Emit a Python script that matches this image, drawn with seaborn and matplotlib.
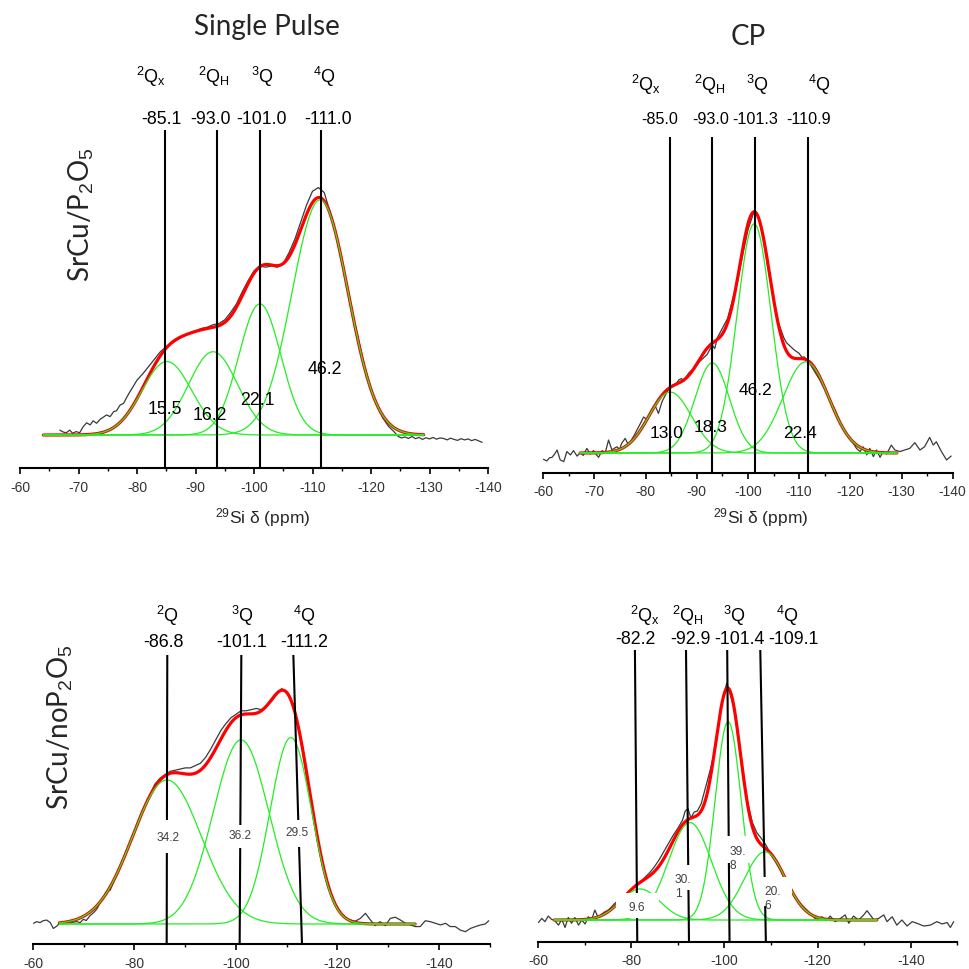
import numpy as np
import pandas as pd
import matplotlib
matplotlib.use("Agg")
import matplotlib.pyplot as plt
import seaborn as sns
from matplotlib.transforms import offset_copy
from matplotlib.patches import Rectangle
from matplotlib.ticker import MultipleLocator

# ---------------------------------------------------------------- data
# Panel 1 : SrCu/P2O5, single pulse
p1_spectrum = [(-66.8, 0.020), (-67.4, 0.012), (-67.9, 0.009), (-68.5, 0.020), (-69.0, 0.007), (-69.6, 0.014),
               (-70.2, 0.009), (-70.8, 0.034), (-71.4, 0.050), (-72.0, 0.041), (-72.5, 0.058), (-73.1, 0.048),
               (-73.7, 0.064), (-74.2, 0.072), (-74.8, 0.082), (-75.4, 0.075), (-76.0, 0.095), (-76.5, 0.099),
               (-77.1, 0.122), (-77.7, 0.129), (-78.3, 0.156), (-78.8, 0.177), (-79.4, 0.200), (-80.0, 0.224),
               (-81, 0.25), (-82, 0.28), (-83, 0.31), (-84, 0.34), (-85, 0.36), (-86, 0.375), (-87, 0.39),
               (-88, 0.405), (-89, 0.415), (-90, 0.425), (-91, 0.435), (-92, 0.44), (-93, 0.45), (-94, 0.455),
               (-95, 0.47), (-96, 0.50), (-97, 0.535), (-98, 0.585), (-99, 0.63), (-100, 0.67), (-101, 0.69),
               (-102, 0.685), (-103, 0.69), (-104, 0.685), (-105, 0.70), (-106, 0.745), (-107, 0.80), (-108, 0.87),
               (-109, 0.94), (-110, 0.995), (-111, 1.01), (-112, 0.99), (-113, 0.91), (-114, 0.82), (-115, 0.71),
               (-116, 0.60), (-117, 0.48), (-118, 0.375), (-119, 0.27), (-120, 0.19), (-121, 0.12), (-122, 0.07),
               (-123, 0.035), (-124, 0.012), (-124.6, -0.005), (-125.2, -0.012), (-125.8, -0.008), (-126.4, -0.014),
               (-127.0, -0.006), (-127.6, -0.015), (-128.2, -0.010), (-128.8, -0.018), (-129.4, -0.011),
               (-130.0, -0.016), (-130.6, -0.010), (-131.2, -0.017), (-131.8, -0.012), (-132.4, -0.014),
               (-133.0, -0.020), (-133.6, -0.013), (-134.2, -0.018), (-134.8, -0.022), (-135.4, -0.015),
               (-136.0, -0.020), (-136.6, -0.016), (-137.2, -0.023), (-137.8, -0.018), (-138.4, -0.024),
               (-139.0, -0.030)]
p1_fit_range = [-64.0, -129.0]
p1_centers = [-85.1, -93.0, -101.0, -111.3]
p1_heights = [0.30, 0.34, 0.535, 0.96]
p1_widths = [4.25, 4.2, 3.6, 4.8]
p1_line_top = [-84.73, -93.68, -101.08, -111.4]
p1_line_bottom = [-84.73, -93.68, -101.08, -111.4]
p1_sites = ["$^{2}$Q$_{\\mathrm{x}}$", "$^{2}$Q$_{\\mathrm{H}}$", "$^{3}$Q", "$^{4}$Q"]
p1_shifts = ["-85.1", "-93.0", "-101.0", "-111.0"]
p1_areas = ["15.5", "16.2", "22.1", "46.2"]
p1_area_pos = [(-84.7, 0.104), (-92.4, 0.080), (-100.5, 0.142), (-112.1, 0.268)]

# Panel 2 : SrCu/P2O5, CP
p2_spectrum = [(-60.0, -0.026), (-60.7, -0.033), (-61.2, -0.020), (-61.7, -0.018), (-62.2, -0.005), (-62.7, 0.0125),
               (-63.3, -0.029), (-64.0, -0.036), (-64.6, 0.006), (-65.3, -0.008), (-65.9, 0.010), (-66.6, -0.013),
               (-67.2, 0.001), (-67.8, -0.010), (-68.5, 0.019), (-69.2, -0.004), (-69.8, 0.010), (-70.3, -0.005),
               (-70.8, -0.018), (-71.5, 0.010), (-72.1, 0.001), (-72.75, 0.054), (-73.4, 0.013), (-73.9, 0.020),
               (-74.4, 0.026), (-74.9, 0.015), (-75.3, 0.040), (-76.0, 0.061), (-76.65, 0.033), (-77.3, 0.057),
               (-77.8, 0.075), (-78.3, 0.096), (-78.9, 0.120), (-79.6, 0.150), (-80.2, 0.140), (-80.9, 0.170),
               (-81.4, 0.190), (-81.8, 0.200), (-82.5, 0.165), (-83.2, 0.214), (-83.7, 0.235), (-84.1, 0.250),
               (-84.6, 0.270), (-85.0, 0.280), (-86.0, 0.290), (-86.5, 0.305), (-87.0, 0.310), (-87.5, 0.300),
               (-88.0, 0.320), (-88.5, 0.335), (-89.0, 0.345), (-89.5, 0.350), (-90.0, 0.365), (-90.5, 0.380),
               (-91.0, 0.390), (-91.5, 0.400), (-92.0, 0.410), (-92.5, 0.430), (-93.0, 0.450), (-93.5, 0.435),
               (-94, 0.48), (-95, 0.52), (-96, 0.56), (-97, 0.64), (-98, 0.72), (-99, 0.83), (-100, 0.93),
               (-101, 0.995), (-101.5, 1.005), (-102, 0.99), (-103, 0.89), (-104, 0.76), (-105, 0.64), (-106, 0.54),
               (-107, 0.48), (-107.5, 0.46), (-108, 0.45), (-108.5, 0.44), (-109, 0.43), (-110, 0.415),
               (-110.5, 0.40), (-111, 0.40), (-112, 0.375), (-113, 0.34), (-114, 0.305), (-115, 0.265),
               (-116, 0.22), (-117, 0.18), (-118, 0.13), (-119, 0.085), (-120, 0.055), (-120.6, 0.040),
               (-121.2, 0.019), (-121.9, 0.006), (-122.5, 0.026), (-123.2, -0.008), (-123.8, 0.019),
               (-124.5, -0.015), (-125.1, 0.0125), (-125.8, -0.018), (-126.4, 0.006), (-127.1, -0.004),
               (-128.0, 0.033), (-128.7, 0.0125), (-129.7, 0.006), (-130.6, 0.0125), (-131.6, 0.019),
               (-132.6, 0.043), (-133.6, 0.0125), (-134.5, 0.026), (-135.5, 0.065), (-136.2, 0.033),
               (-136.8, 0.047), (-137.8, 0.006), (-138.8, -0.029), (-139.7, -0.0125)]
p2_fit_range = [-67.2, -129.1]
p2_centers = [-84.8, -93.0, -101.2, -111.3]
p2_heights = [0.254, 0.375, 0.955, 0.38]
p2_widths = [4.15, 3.37, 3.33, 4.5]
p2_line_top = [-84.76, -92.9, -101.4, -111.7]
p2_line_bottom = [-84.76, -92.9, -101.4, -111.7]
p2_sites = ["$^{2}$Q$_{\\mathrm{x}}$", "$^{2}$Q$_{\\mathrm{H}}$", "$^{3}$Q", "$^{4}$Q"]
p2_shifts = ["-85.0", "-93.0", "-101.3", "-110.9"]
p2_areas = ["13.0", "18.3", "46.2", "22.4"]
p2_area_pos = [(-84.1, 0.082), (-92.7, 0.105), (-101.4, 0.260), (-110.2, 0.082)]

# Panel 3 : SrCu/noP2O5, single pulse
p3_spectrum = [(-60.1, 0.003), (-60.7, 0.010), (-61.4, 0.006), (-62.0, 0.014), (-62.7, 0.017), (-63.4, 0.006),
               (-64.0, -0.019), (-64.7, -0.009), (-65.2, 0.003), (-66.0, 0.004), (-67.0, 0.006), (-68.0, 0.008),
               (-68.6, 0.010), (-69.3, 0.006), (-69.9, 0.020), (-70.5, 0.015), (-71.2, 0.035), (-72.0, 0.050),
               (-72.6, 0.065), (-73.2, 0.090), (-74.0, 0.120), (-74.5, 0.140), (-75.2, 0.145), (-76, 0.185),
               (-77, 0.235), (-78, 0.29), (-79, 0.345), (-80, 0.40), (-81, 0.45), (-82, 0.50), (-83, 0.55),
               (-84, 0.60), (-85, 0.625), (-86, 0.64), (-87, 0.655), (-88, 0.66), (-89, 0.665), (-90, 0.67),
               (-91, 0.67), (-92, 0.68), (-93, 0.69), (-94, 0.715), (-95, 0.75), (-96, 0.79), (-97, 0.83),
               (-98, 0.86), (-99, 0.885), (-100, 0.90), (-101, 0.915), (-102, 0.915), (-103, 0.92), (-104, 0.925),
               (-105, 0.92), (-106, 0.935), (-107, 0.955), (-108, 0.985), (-109, 1.01), (-110, 0.995),
               (-111, 0.955), (-112, 0.875), (-113, 0.76), (-114, 0.62), (-115, 0.49), (-116, 0.36), (-117, 0.25),
               (-118, 0.165), (-119, 0.11), (-120, 0.07), (-121, 0.04), (-122, 0.02), (-122.5, 0.017),
               (-123.5, 0.012), (-124.5, 0.024), (-125.5, 0.046), (-126.5, 0.017), (-127.4, -0.007),
               (-128.4, 0.010), (-129.4, -0.007), (-130.4, 0.024), (-131.4, 0.029), (-132.4, 0.017),
               (-133.4, 0.003), (-134.4, -0.004), (-135.3, -0.011), (-136.3, -0.011), (-137.3, 0.014),
               (-138.3, 0.010), (-139.3, 0.003), (-140.3, -0.004), (-141.3, 0.003), (-142.2, -0.011),
               (-143.2, -0.011), (-144.2, -0.026), (-145.2, -0.033), (-146.2, -0.019), (-147.2, -0.011),
               (-148.2, -0.004), (-149.1, 0.000), (-149.8, 0.014)]
p3_fit_range = [-65.2, -135.3]
p3_centers = [-86.4, -101.0, -110.8]
p3_heights = [0.618, 0.79, 0.80]
p3_widths = [6.8, 5.5, 4.1]
p3_line_top = [-86.46, -101.05, -111.3]
p3_line_bottom = [-86.34, -100.72, -113.0]
p3_sites = ["$^{2}$Q", "$^{3}$Q", "$^{4}$Q"]
p3_shifts = ["-86.8", "-101.1", "-111.2"]
p3_areas = ["34.2", "36.2", "29.5"]
p3_area_pos = [(-86.7, 0.368), (-100.9, 0.378), (-111.96, 0.389)]

# Panel 4 : SrCu/noP2O5, CP
p4_spectrum = [(-60.1, -0.011), (-60.8, 0.007), (-61.5, -0.007), (-62.2, 0.017), (-62.9, 0.003), (-63.6, -0.003),
               (-64.4, -0.022), (-65.1, 0.003), (-65.8, -0.032), (-66.5, 0.011), (-67.2, -0.014), (-67.9, 0.011),
               (-68.7, -0.022), (-69.4, 0.000), (-70.1, -0.017), (-70.8, 0.014), (-71.5, 0.000), (-72.2, 0.043),
               (-72.9, 0.011), (-73.7, 0.026), (-74.4, 0.036), (-75.1, 0.043), (-75.8, 0.057), (-76.5, 0.072),
               (-78, 0.095), (-80, 0.13), (-81, 0.15), (-82, 0.165), (-83, 0.185), (-84, 0.205), (-85, 0.23),
               (-86, 0.26), (-87, 0.295), (-88, 0.33), (-89, 0.365), (-90, 0.395), (-91, 0.43), (-91.6, 0.47),
               (-92.2, 0.48), (-92.8, 0.44), (-93.5, 0.465), (-94.2, 0.47), (-95, 0.50), (-96, 0.575), (-97, 0.65),
               (-98, 0.735), (-99, 0.875), (-100, 0.985), (-100.5, 1.02), (-101, 0.99), (-102, 0.92), (-103, 0.78),
               (-104, 0.635), (-105, 0.505), (-106, 0.42), (-107, 0.375), (-108, 0.35), (-109, 0.32), (-110, 0.28),
               (-111, 0.25), (-112, 0.215), (-113, 0.175), (-114, 0.14), (-115, 0.105), (-115.5, 0.093),
               (-116.6, 0.065), (-117.7, 0.043), (-118.8, 0.020), (-119.8, 0.000), (-120.9, 0.014),
               (-121.9, -0.003), (-122.7, 0.017), (-123.8, -0.007), (-124.9, 0.007), (-125.9, 0.022),
               (-126.7, -0.014), (-127.7, 0.017), (-128.8, 0.000), (-129.9, 0.022), (-130.6, 0.040),
               (-131.3, 0.022), (-132.1, 0.000), (-133.1, 0.007), (-134.2, 0.022), (-134.9, -0.007),
               (-136.0, 0.014), (-137.0, -0.022), (-138.1, 0.000), (-139.2, -0.026), (-140.3, -0.007),
               (-141.3, -0.014), (-142.8, -0.026), (-144.2, -0.022), (-145.6, -0.007), (-146.7, -0.017),
               (-147.8, -0.011), (-148.5, -0.032), (-149.2, -0.007)]
p4_fit_range = [-63.5, -132.7]
p4_centers = [-81.9, -92.6, -100.8, -108.7]
p4_heights = [0.134, 0.42, 0.855, 0.294]
p4_widths = [4.2, 4.6, 2.8, 4.4]
p4_line_top = [-80.8, -91.76, -100.6, -107.7]
p4_line_bottom = [-81.3, -92.4, -101.1, -108.9]
p4_sites = ["$^{2}$Q$_{\\mathrm{x}}$", "$^{2}$Q$_{\\mathrm{H}}$", "$^{3}$Q", "$^{4}$Q"]
p4_shifts = ["-82.2", "-92.9", "-101.4", "-109.1"]
p4_areas = ["9.6", "30.\n1", "39.\n8", "20.\n6"]
p4_area_pos = [(-81.2, 0.053), (-89.4, 0.143), (-101.2, 0.262), (-108.5, 0.090)]

col_titles = ["Single Pulse", "CP"]
row_titles = ["SrCu/P$_2$O$_5$", "SrCu/noP$_2$O$_5$"]
x_title = "$^{29}$Si δ (ppm)"

# ---------------------------------------------------------------- style
sns.set_theme(style="white")
plt.rcParams["font.family"] = ["Liberation Sans", "DejaVu Sans"]
plt.rcParams["mathtext.fontset"] = "custom"
plt.rcParams["mathtext.rm"] = "Liberation Sans"
plt.rcParams["mathtext.it"] = "Liberation Sans:italic"
plt.rcParams["mathtext.bf"] = "Liberation Sans:bold"
plt.rcParams["axes.unicode_minus"] = False

W = H = 969
fig = plt.figure(figsize=(W / 100, H / 100), dpi=100)
fig.patch.set_facecolor("white")

GREEN = "#22ee22"
RED = "#ff0000"
SPEC = "#3a3a3a"


def add_axes_px(l, t, r, b):
    return fig.add_axes([l / W, 1 - b / H, (r - l) / W, (b - t) / H])


def draw_panel(ax, spectrum, fit_range, centers, heights, widths, line_top, line_bottom,
               sites, shifts, areas, area_pos, xlim, ylim, major, minor,
               num_off, site_off, num_dx, site_dx, num_size, area_size, area_color,
               area_ha="center", boxes=()):
    spec = pd.DataFrame(spectrum, columns=["ppm", "intensity"])
    grid = np.linspace(fit_range[0], fit_range[1], 700)
    frames = []
    total = np.zeros_like(grid)
    for i, (c, h, w) in enumerate(zip(centers, heights, widths)):
        y = h * np.exp(-0.5 * ((grid - c) / w) ** 2)
        total += y
        frames.append(pd.DataFrame({"ppm": grid, "intensity": y, "component": f"c{i}"}))
    comp = pd.concat(frames, ignore_index=True)
    fit = pd.DataFrame({"ppm": grid, "intensity": total})

    sns.lineplot(data=spec, x="ppm", y="intensity", ax=ax, color=SPEC, lw=0.9,
                 sort=False, estimator=None, zorder=2)
    sns.lineplot(data=fit, x="ppm", y="intensity", ax=ax, color=RED, lw=2.3,
                 sort=False, estimator=None, zorder=3)
    sns.lineplot(data=comp, x="ppm", y="intensity", hue="component", palette=[GREEN] * len(centers),
                 ax=ax, lw=0.9, sort=False, estimator=None, legend=False, zorder=4)

    for xt, xb in zip(line_top, line_bottom):
        ax.plot([xt, xb], [ylim[1], ylim[0]], color="black", lw=1.5, zorder=5,
                solid_capstyle="butt", clip_on=False)

    for (x0, x1, y0, y1) in boxes:
        ax.add_patch(Rectangle((min(x0, x1), y0), abs(x1 - x0), y1 - y0, facecolor="white",
                               edgecolor="none", zorder=6))

    tr = ax.get_xaxis_transform()
    for xt, s, d in zip(line_top, shifts, num_dx):
        ax.text(xt, 1.0, s, transform=offset_copy(tr, fig=fig, x=d, y=num_off, units="dots"),
                ha="center", va="baseline", fontsize=num_size, color="black", clip_on=False)
    for xt, s, d in zip(line_top, sites, site_dx):
        ax.text(xt, 1.0, s, transform=offset_copy(tr, fig=fig, x=d, y=site_off, units="dots"),
                ha="center", va="baseline", fontsize=13, color="black", clip_on=False)
    for (x, y), s in zip(area_pos, areas):
        ha = area_ha if "\n" in s else "center"
        ax.text(x, y, s, ha=ha, va="center", fontsize=area_size, color=area_color,
                linespacing=1.25, zorder=7)

    ax.set_xlim(*xlim)
    ax.set_ylim(*ylim)
    ax.set_xlabel("")
    ax.set_ylabel("")
    ax.set_yticks([])
    ax.set_facecolor("none")
    for side in ["left", "top", "right"]:
        ax.spines[side].set_visible(False)
    ax.spines["bottom"].set_linewidth(1.5)
    ax.spines["bottom"].set_color("black")
    ax.xaxis.set_major_locator(MultipleLocator(major))
    ax.xaxis.set_minor_locator(MultipleLocator(minor))
    ax.tick_params(axis="x", which="both", bottom=True, direction="out", color="black")
    ax.tick_params(axis="x", which="major", length=4, width=1.2, labelsize=10, pad=5, labelcolor="#333333")
    ax.tick_params(axis="x", which="minor", length=2.5, width=1.0)


ax1 = add_axes_px(20, 130, 488, 468)
draw_panel(ax1, p1_spectrum, p1_fit_range, p1_centers, p1_heights, p1_widths, p1_line_top, p1_line_bottom,
           p1_sites, p1_shifts, p1_areas, p1_area_pos, (-60, -140), (-0.1347, 1.245), 10, 5,
           6.5, 46.7, [-3, -7, 1, 7], [-14, -3, 2, 4], 12.8, 12.8, "black")

ax2 = add_axes_px(543.3, 137, 952.7, 473)
draw_panel(ax2, p2_spectrum, p2_fit_range, p2_centers, p2_heights, p2_widths, p2_line_top, p2_line_bottom,
           p2_sites, p2_shifts, p2_areas, p2_area_pos, (-60, -140), (-0.0833, 1.3167), 10, 5,
           12.7, 46.3, [-10, -1, 0, 1], [-24, -2, 2, 12], 11.6, 12.5, "black")

ax3 = add_axes_px(33, 655, 489.75, 944)
draw_panel(ax3, p3_spectrum, p3_fit_range, p3_centers, p3_heights, p3_widths, p3_line_top, p3_line_bottom,
           p3_sites, p3_shifts, p3_areas, p3_area_pos, (-60, -150), (-0.0858, 1.1545), 20, 10,
           8.3, 33.3, [-4, 0, 11], [0, 1, 11], 12.9, 8.6, "#404040",
           boxes=[(-83.05, -90.34, 0.305, 0.446), (-97.24, -104.53, 0.326, 0.425),
                  (-108.87, -114.78, 0.330, 0.446)])

ax4 = add_axes_px(538, 650, 957.4, 941.7)
draw_panel(ax4, p4_spectrum, p4_fit_range, p4_centers, p4_heights, p4_widths, p4_line_top, p4_line_bottom,
           p4_sites, p4_shifts, p4_areas, p4_area_pos, (-60, -150), (-0.0935, 1.1638), 20, 10,
           6.0, 28.3, [1, 4, 12, 33], [10, 2, 7, 27], 12.8, 8.6, "#404040", area_ha="left",
           boxes=[(-76.74, -85.97, 0.009, 0.116), (-88.33, -94.76, 0.129, 0.237),
                  (-99.7, -105.92, 0.246, 0.362), (-108.28, -114.5, 0.060, 0.185)])

# titles and labels
fig.text(267 / W, 1 - 27 / H, col_titles[0], fontsize=20, family=["Lato", "DejaVu Sans"],
         ha="center", va="center")
fig.text(748 / W, 1 - 37 / H, col_titles[1], fontsize=20, family=["Lato", "DejaVu Sans"],
         ha="center", va="center")
fig.text(81.7 / W, 1 - 215 / H, row_titles[0], fontsize=20, family=["Lato", "DejaVu Sans"],
         rotation=90, ha="center", va="center")
fig.text(60 / W, 1 - 726.7 / H, row_titles[1], fontsize=20, family=["Lato", "DejaVu Sans"],
         rotation=90, ha="center", va="center")
fig.text(263 / W, 1 - 518 / H, x_title, fontsize=12.5, ha="center", va="center")
fig.text(760.7 / W, 1 - 518 / H, x_title, fontsize=12.5, ha="center", va="center")

fig.savefig("out.png", dpi=100, facecolor="white")
